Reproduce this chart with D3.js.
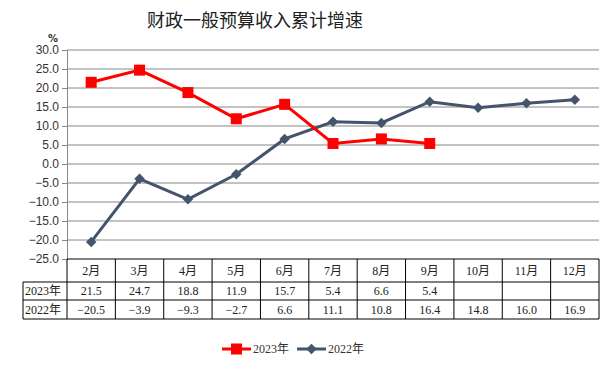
<!DOCTYPE html>
<html lang="zh">
<head>
<meta charset="UTF-8" />
<title>财政一般预算收入累计增速</title>
<script src="https://d3js.org/d3.v7.min.js"></script>
<style>
  body { margin: 0; background: #fff; }
  svg { display: block; font-family: "Liberation Serif", "Noto Sans CJK SC", serif; }
  .title { font-family: "Noto Sans CJK SC", sans-serif; font-size: 18px; fill: #222; }
  .axis text { font-size: 12px; fill: #333; }
  .cell { font-size: 12px; fill: #222; }
  .legend text { font-size: 12px; fill: #333; }
</style>
</head>
<body>
<svg id="chart" width="607" height="369"></svg>
<script>
const months = ["2月", "3月", "4月", "5月", "6月", "7月", "8月", "9月", "10月", "11月", "12月"];
const seriesNames = ["2023年", "2022年"];
const values2023 = [21.5, 24.7, 18.8, 11.9, 15.7, 5.4, 6.6, 5.4];
const values2022 = [-20.5, -3.9, -9.3, -2.7, 6.6, 11.1, 10.8, 16.4, 14.8, 16.0, 16.9];
const yTicks = [-25, -20, -15, -10, -5, 0, 5, 10, 15, 20, 25, 30];

const red = "#ff0000";
const navy = "#44546a";

const svg = d3.select("#chart");
const plotLeft = 67, plotRight = 599, plotTop = 50, plotBottom = 259;

const x = d3.scaleBand().domain(months).range([plotLeft, plotRight]);
const y = d3.scaleLinear().domain([-25, 30]).range([plotBottom, plotTop]);
const fmt = d3.format(".1f");
const cx = m => x(m) + x.bandwidth() / 2;

svg.append("text")
  .attr("class", "title")
  .attr("x", 255)
  .attr("y", 27)
  .attr("text-anchor", "middle")
  .text("财政一般预算收入累计增速");

// gridlines
svg.append("g")
  .selectAll("line")
  .data(yTicks.filter(d => d > -25))
  .join("line")
  .attr("x1", plotLeft).attr("x2", plotRight)
  .attr("y1", d => y(d)).attr("y2", d => y(d))
  .attr("stroke", "#868686").attr("stroke-width", 1);

// y axis
const yAxis = svg.append("g")
  .attr("class", "axis")
  .attr("transform", `translate(${plotLeft},0)`)
  .call(d3.axisLeft(y).tickValues(yTicks).tickFormat(fmt).tickSize(5).tickPadding(3));
yAxis.select(".domain").attr("stroke", "#868686");
yAxis.selectAll(".tick line").attr("stroke", "#868686");

svg.append("text")
  .attr("x", 53).attr("y", 42)
  .attr("text-anchor", "middle")
  .attr("font-family", "DejaVu Sans, sans-serif")
  .attr("font-weight", "bold")
  .attr("font-size", 10)
  .attr("fill", "#333")
  .text("%");

// lines
const line = d3.line()
  .x((d, i) => cx(months[i]))
  .y(d => y(d));

svg.append("path")
  .datum(values2022)
  .attr("d", line)
  .attr("fill", "none")
  .attr("stroke", navy)
  .attr("stroke-width", 3);

svg.append("g")
  .selectAll("path")
  .data(values2022)
  .join("path")
  .attr("d", d3.symbol(d3.symbolDiamond2, 70))
  .attr("transform", (d, i) => `translate(${cx(months[i])},${y(d)})`)
  .attr("fill", navy);

svg.append("path")
  .datum(values2023)
  .attr("d", line)
  .attr("fill", "none")
  .attr("stroke", red)
  .attr("stroke-width", 3);

svg.append("g")
  .selectAll("rect")
  .data(values2023)
  .join("rect")
  .attr("x", (d, i) => cx(months[i]) - 5.5)
  .attr("y", d => y(d) - 5.5)
  .attr("width", 11).attr("height", 11)
  .attr("fill", red);

// data table
const tableLeft = 23;
const rowY = [259, 282, 300, 319];
const table = svg.append("g");

function hline(x1, x2, yy) {
  table.append("line").attr("x1", x1).attr("x2", x2).attr("y1", yy).attr("y2", yy)
    .attr("stroke", "#000");
}
function vline(xx, y1, y2) {
  table.append("line").attr("x1", xx).attr("x2", xx).attr("y1", y1).attr("y2", y2)
    .attr("stroke", "#000");
}
hline(plotLeft, plotRight, rowY[0]);
hline(tableLeft, plotRight, rowY[1]);
hline(tableLeft, plotRight, rowY[2]);
hline(tableLeft, plotRight, rowY[3]);
vline(tableLeft, rowY[1], rowY[3]);
months.forEach(m => vline(x(m), rowY[0], rowY[3]));
vline(plotRight, rowY[0], rowY[3]);

table.selectAll("text.month")
  .data(months)
  .join("text")
  .attr("class", "cell")
  .attr("x", d => cx(d))
  .attr("y", (rowY[0] + rowY[1]) / 2 + 4)
  .attr("text-anchor", "middle")
  .text(d => d);

[values2023, values2022].forEach((vals, r) => {
  table.append("text")
    .attr("class", "cell")
    .attr("x", tableLeft + 2)
    .attr("y", (rowY[r + 1] + rowY[r + 2]) / 2 + 4)
    .text(seriesNames[r]);
  table.selectAll(null)
    .data(vals)
    .join("text")
    .attr("class", "cell")
    .attr("x", (d, i) => cx(months[i]))
    .attr("y", (rowY[r + 1] + rowY[r + 2]) / 2 + 4)
    .attr("text-anchor", "middle")
    .text(d => fmt(d));
});

// legend
const legend = svg.append("g").attr("class", "legend").attr("transform", "translate(222,349)");
legend.append("line").attr("x1", 0).attr("x2", 29).attr("stroke", red).attr("stroke-width", 3);
legend.append("rect").attr("x", 9).attr("y", -5.5).attr("width", 11).attr("height", 11).attr("fill", red);
legend.append("text").attr("x", 31).attr("y", 4).text(seriesNames[0]);
legend.append("line").attr("x1", 75).attr("x2", 104).attr("stroke", navy).attr("stroke-width", 3);
legend.append("path").attr("d", d3.symbol(d3.symbolDiamond2, 70)).attr("transform", "translate(89.5,0)").attr("fill", navy);
legend.append("text").attr("x", 106).attr("y", 4).text(seriesNames[1]);
</script>
</body>
</html>
